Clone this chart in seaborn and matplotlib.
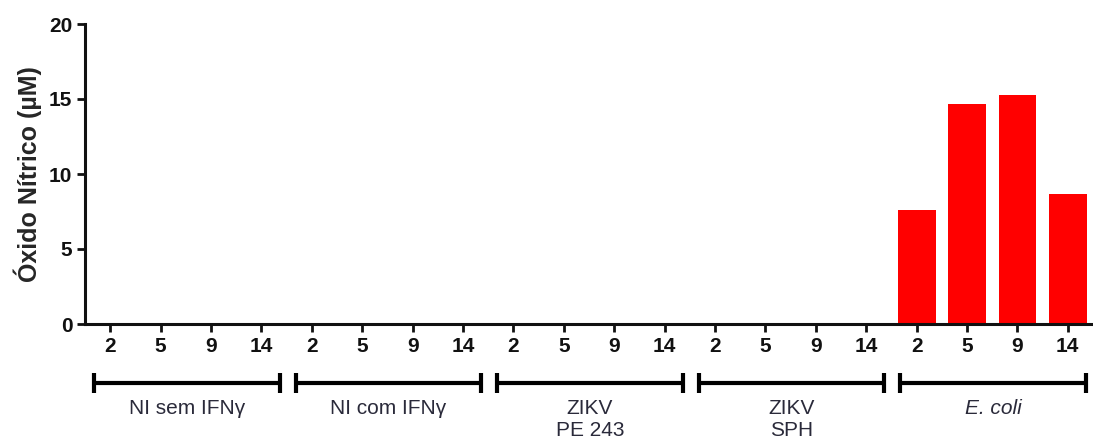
import matplotlib
matplotlib.use("Agg")
import matplotlib.pyplot as plt
import matplotlib.transforms as mtransforms
import seaborn as sns
import pandas as pd

groups = ["NI sem IFNγ", "NI com IFNγ", "ZIKV\nPE 243", "ZIKV\nSPH", "E. coli"]
days = ["2", "5", "9", "14"]
values = {
    "NI sem IFNγ": [0, 0, 0, 0],
    "NI com IFNγ": [0, 0, 0, 0],
    "ZIKV\nPE 243": [0, 0, 0, 0],
    "ZIKV\nSPH": [0, 0, 0, 0],
    "E. coli": [7.6, 14.7, 15.3, 8.7],
}

rows = []
for g in groups:
    for d, v in zip(days, values[g]):
        rows.append({"cond": f"{g}|{d}", "day": d, "no": v})
df = pd.DataFrame(rows)
order = list(df["cond"])

sns.set_style("ticks")
plt.rcParams["font.family"] = ["Liberation Sans", "DejaVu Sans"]

fig = plt.figure(figsize=(10.93, 4.41), dpi=100)
ax = fig.add_axes([85 / 1093, 1 - 324 / 441, 1 - 85 / 1093, 300 / 441])

sns.barplot(data=df, x="cond", y="no", order=order, color="#FF0000",
            saturation=1, width=0.75, ax=ax, errorbar=None, linewidth=0)

ax.set_xlim(-0.5, len(order) - 0.5)
ax.set_ylim(0, 20)
ax.set_yticks([0, 5, 10, 15, 20])
ax.set_yticklabels(["0", "5", "10", "15", "20"], fontsize=15, fontweight="bold")
ax.set_xticks(range(len(order)))
ax.set_xticklabels(list(df["day"]), fontsize=15, fontweight="bold")
ax.set_xlabel("")
ax.set_ylabel("Óxido Nítrico (µM)", fontsize=18, fontweight="bold", labelpad=5)

for s in ["top", "right"]:
    ax.spines[s].set_visible(False)
for s in ["left", "bottom"]:
    ax.spines[s].set_linewidth(2.2)
    ax.spines[s].set_color("#111111")
ax.tick_params(axis="both", direction="out", length=6, width=2, color="#111111",
               labelcolor="#111111", pad=3)

# group brackets below the axis
trans = mtransforms.blended_transform_factory(ax.transData, fig.transFigure)
y_br = 1 - 383 / 441
cap = 10 / 441
for gi, g in enumerate(groups):
    x0 = gi * 4 - 0.32
    x1 = gi * 4 + 3.36
    ax.plot([x0, x1], [y_br, y_br], transform=trans, color="black", lw=3, clip_on=False,
            solid_capstyle="butt")
    for xx in (x0, x1):
        ax.plot([xx, xx], [y_br - cap, y_br + cap], transform=trans, color="black",
                lw=3, clip_on=False, solid_capstyle="butt")
    style = "italic" if g == "E. coli" else "normal"
    ax.text((x0 + x1) / 2, 1 - 399 / 441, g, transform=trans, ha="center", va="top",
            fontsize=15, fontstyle=style, color="#2a2a3a", linespacing=1.2)

fig.savefig("out.png", dpi=100)
